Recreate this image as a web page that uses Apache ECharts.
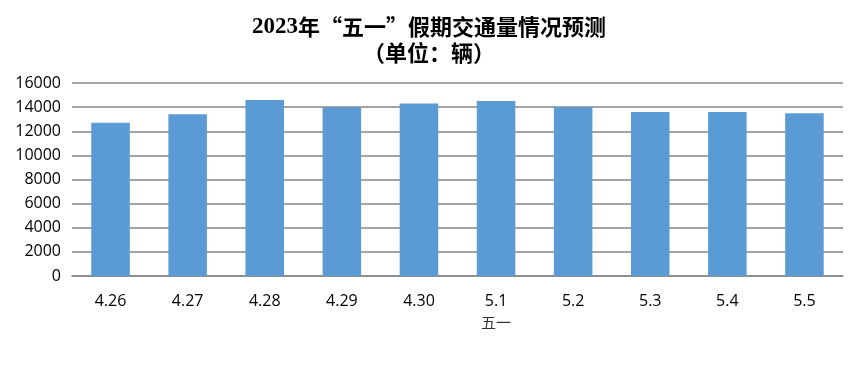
<!DOCTYPE html>
<html><head><meta charset="utf-8">
<script src="https://cdn.jsdelivr.net/npm/echarts@6/dist/echarts.min.js"></script>
<style>html,body{margin:0;padding:0;background:#fff}#c{width:858px;height:368px}</style>
</head><body><div id="c"></div>
<script>
const titleYear = '2023';
const titleRest = '年“五一”假期交通量情况预测';
const titleUnit = '（单位：辆）';
const categories = ['4.26','4.27','4.28','4.29','4.30','5.1','5.2','5.3','5.4','5.5'];
const subLabels = ['','','','','','五一','','','',''];
const values = [12700,13400,14600,14000,14300,14500,14000,13600,13600,13500];
const yTicks = {min:0, max:16000, interval:2000};

const chart = echarts.init(document.getElementById('c'));
chart.setOption({
  animation:false,
  backgroundColor:'#fff',
  title:{
    text:'{y|'+titleYear+'}{c|'+titleRest+'}\n{c|'+titleUnit+'}', left:'center', top:9,
    textStyle:{
      fontWeight:'bold',fontSize:22,lineHeight:26,color:'#000',
      rich:{
        y:{fontFamily:'"Liberation Serif"',fontWeight:'bold',fontSize:23,lineHeight:26,color:'#000'},
        c:{fontFamily:'"Noto Sans CJK SC"',fontWeight:'bold',fontSize:22,lineHeight:26,color:'#000'}
      }
    }
  },
  grid:{left:72,right:15,top:83,bottom:92,containLabel:false},
  xAxis:{
    type:'category', data:categories,
    axisLine:{lineStyle:{color:'#868686',width:1.5}},
    axisTick:{show:false},
    axisLabel:{
      margin:15, color:'#000', fontSize:16,
      formatter:function(v, i){ const s = subLabels[i]; return s ? '{a|'+v+'}\n{b|'+s+'}' : '{a|'+v+'}'; },
      rich:{
        a:{fontSize:16,color:'#000',lineHeight:20,fontFamily:'"Open Sans","DejaVu Sans",sans-serif'},
        b:{fontSize:15,color:'#333',lineHeight:23,fontFamily:'"Noto Sans CJK SC"'}
      }
    }
  },
  yAxis:{
    type:'value', min:yTicks.min, max:yTicks.max, interval:yTicks.interval,
    axisLine:{show:false}, axisTick:{show:false},
    splitLine:{lineStyle:{color:'#868686',width:1.5}},
    axisLabel:{margin:11,color:'#000',fontSize:16,fontFamily:'"Open Sans","DejaVu Sans",sans-serif',
      formatter:function(v){return String(v);}}
  },
  series:[{type:'bar',data:values,barWidth:'50%',itemStyle:{color:'#5B9BD5'}}]
});
</script></body></html>
